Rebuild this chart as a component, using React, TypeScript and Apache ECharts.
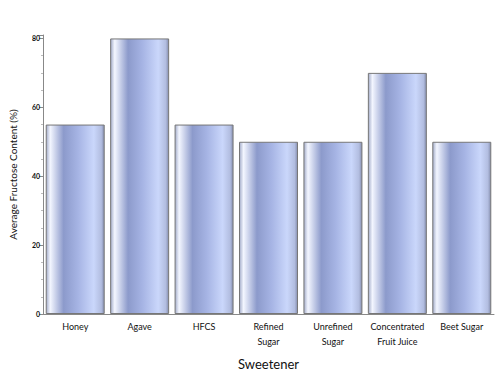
import React, { useEffect, useRef } from "react";
import * as echarts from "echarts";

const categories = ["Honey", "Agave", "HFCS", "Refined\nSugar", "Unrefined\nSugar", "Concentrated\nFruit Juice", "Beet Sugar"];
const fructose = [55, 80, 55, 50, 50, 70, 50];
const yTicks = [0, 20, 40, 60, 80];

export default function App() {
  const ref = useRef<HTMLDivElement>(null);
  useEffect(() => {
    if (!ref.current) return;
    const chart = echarts.init(ref.current, null, { renderer: "svg" });
    const font = "Lato, 'Open Sans', sans-serif";
    const grad = new echarts.graphic.LinearGradient(0, 0, 1, 0, [
      { offset: 0, color: "#a4adca" },
      { offset: 0.07, color: "#f3f6ff" },
      { offset: 0.3, color: "#8c9acb" },
      { offset: 0.55, color: "#a6b4e4" },
      { offset: 0.82, color: "#cad7fb" },
      { offset: 0.95, color: "#b2bde0" },
      { offset: 1, color: "#858eae" },
    ]);
    chart.setOption({
      animation: false,
      backgroundColor: "#ffffff",
      grid: { left: 38, right: 6, top: 35, bottom: 57, containLabel: false },
      xAxis: {
        type: "category",
        data: categories,
        name: "Sweetener",
        nameLocation: "middle",
        nameGap: 43,
        nameTextStyle: { fontFamily: font, fontSize: 13, color: "#111" },
        axisLine: { lineStyle: { color: "#888", width: 1 } },
        axisTick: { show: false },
        axisLabel: { fontFamily: font, fontSize: 9, color: "#111", margin: 5, lineHeight: 15, interval: 0 },
      },
      yAxis: {
        type: "value",
        min: yTicks[0],
        max: 81,
        interval: 20,
        name: "Average Fructose Content (%)",
        nameLocation: "middle",
        nameGap: 25,
        nameTextStyle: { fontFamily: font, fontSize: 10, color: "#111" },
        axisLine: { show: true, lineStyle: { color: "#888", width: 1 } },
        axisTick: { show: true, length: 4, lineStyle: { color: "#888" } },
        minorTick: { show: true, splitNumber: 4, length: 2, lineStyle: { color: "#bbb" } },
        splitLine: { show: false },
        axisLabel: { fontFamily: font, fontSize: 7, fontWeight: "bold", color: "#111", margin: 3, showMaxLabel: false },
      },
      series: [
        {
          type: "bar",
          data: fructose,
          barWidth: 59,
          itemStyle: { color: grad, borderColor: "#777", borderWidth: 1 },
        },
      ],
    });
    return () => chart.dispose();
  }, []);
  return <div ref={ref} style={{ position: "fixed", left: 0, top: 0, width: 500, height: 375 }} />;
}
